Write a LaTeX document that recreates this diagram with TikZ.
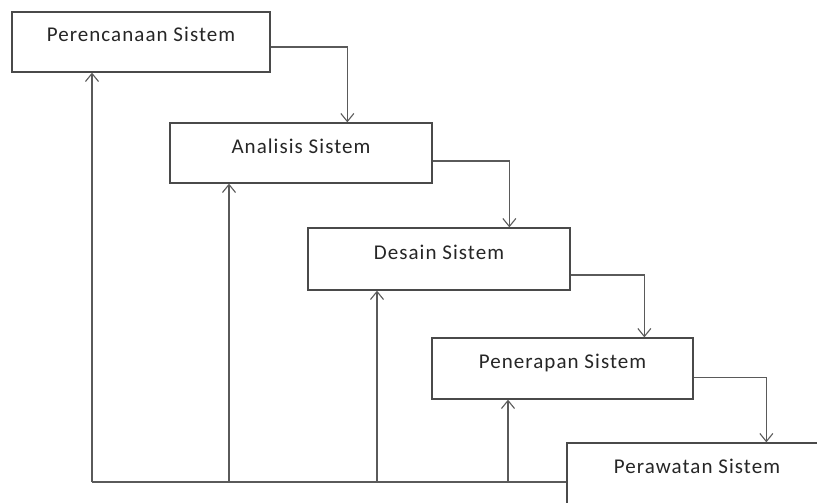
\documentclass[tikz,border=0pt]{standalone}
\usepackage{fontspec}
\setmainfont{Carlito}[LetterSpace=5]
\usetikzlibrary{arrows.meta}
\definecolor{boxline}{HTML}{4A4A4A}
\definecolor{conline}{HTML}{5A5A5A}
\begin{document}
\begin{tikzpicture}[x=1pt,y=-1pt,
  box/.style={draw=boxline, line width=1.3pt, fill=white, minimum height=60pt,
    text height=14pt, text depth=14pt, inner sep=0pt, font=\fontsize{21}{24}\selectfont, text=black!85},
  ln/.style={draw=conline, line width=1.1pt},
  arr/.style={ln, -{Straight Barb[length=8pt,width=13pt,line width=1.1pt]}}]
\useasboundingbox[fill=white] (0,0) rectangle (817,503);
\node[box, minimum width=258pt] (b1) at (141,42) {Perencanaan Sistem};
\node[box, minimum width=262pt] (b2) at (301,153) {Analisis Sistem};
\node[box, minimum width=262pt, minimum height=62pt] (b3) at (439,259) {Desain Sistem};
\node[box, minimum width=261pt, minimum height=61pt] (b4) at (562.5,368.5) {Penerapan Sistem};
\node[box, minimum width=280pt, minimum height=70pt, text depth=24pt] (b5) at (707,478) {Perawatan Sistem\hspace*{20pt}};
% forward flow
\draw[arr, line width=1.3pt] ([yshift=-5pt]b1.east) -| ([xshift=178pt]b2.north west);
\draw[arr] ([yshift=-8pt]b2.east) -| ([xshift=202pt]b3.north west);
\draw[arr] ([yshift=-16pt]b3.east) -| ([xshift=213pt]b4.north west);
\draw[arr] ([yshift=-9pt]b4.east) -| ([xshift=200pt]b5.north west);
% feedback
\coordinate (base) at (92,482);
\coordinate (f2) at (229,482);
\coordinate (f3) at (377,482);
\coordinate (f4) at (508,482);
\draw[ln] (b5.west |- base) -- (base);
\draw[arr, line width=1.5pt] (base) -- (base |- b1.south);
\draw[arr] (f2) -- (f2 |- b2.south);
\draw[arr] (f3) -- (f3 |- b3.south);
\draw[arr] (f4) -- (f4 |- b4.south);
\end{tikzpicture}
\end{document}
